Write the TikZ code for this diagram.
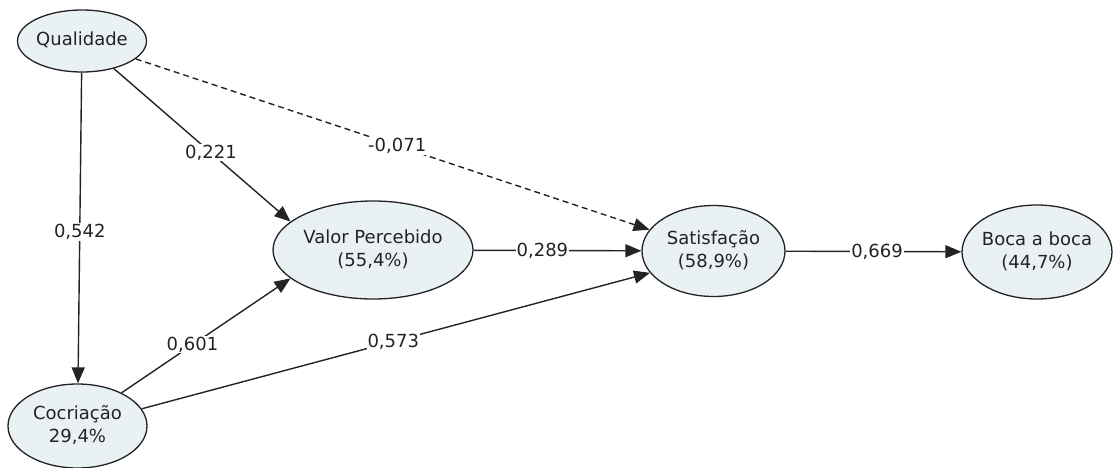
\documentclass[tikz,border=0pt]{standalone}
\usepackage{fontspec}
\setmainfont{DejaVu Sans}
\usetikzlibrary{shapes.geometric,arrows.meta}
\definecolor{nodefill}{RGB}{234,241,244}
\definecolor{ink}{RGB}{35,35,35}
% centred text block that does not widen the ellipse around it
\newcommand\twoline[1]{\makebox[0pt]{\begin{tabular}{@{}c@{}}#1\end{tabular}}}

\begin{document}
\begin{tikzpicture}[x=1pt,y=-1pt,
  font=\fontsize{18}{23}\selectfont,
  construct/.style={ellipse, draw=ink, line width=1.3pt, fill=nodefill,
    inner sep=0pt, text=ink},
  link/.style={draw=ink, line width=1.4pt, -{Triangle[length=16pt,width=13pt]}},
  weak/.style={link, dash pattern=on 6pt off 4pt},
  coef/.style={fill=white, inner sep=1pt, text=ink}
]
\useasboundingbox (0,0) rectangle (1113,468);

% constructs
\node[construct, minimum width=129pt, minimum height=62pt] (Q) at (82,41) {\twoline{Qualidade}};
\node[construct, minimum width=200pt, minimum height=98pt] (V) at (373,250) {\twoline{Valor Percebido\\(55,4\%)}};
\node[construct, minimum width=143pt, minimum height=91pt] (S) at (713.5,251) {\twoline{Satisfação\\(58,9\%)}};
\node[construct, minimum width=150pt, minimum height=94pt] (B) at (1037,252) {\twoline{Boca a boca\\(44,7\%)}};
\node[construct, minimum width=139pt, minimum height=84pt] (C) at (77.5,426) {\twoline{Cocriação\\29,4\%}};

% structural paths with coefficients
\draw[link] (Q) -- node[coef, pos=0.513] {0,542} (C);
\draw[link] (Q) -- node[coef, pos=0.55] {0,221} (V.161);
\draw[weak] (Q) -- node[coef, pos=0.509] {-0,071} (S);
\draw[link] (V) -- node[coef, pos=0.41] {0,289} (S);
\draw[link] (C.37) -- node[coef, pos=0.42] {0,601} (V.199);
\draw[link] (C.15) -- node[coef, pos=0.495] {0,573} (S.199);
\draw[link] (S) -- node[coef, pos=0.52] {0,669} (B);
\end{tikzpicture}
\end{document}
